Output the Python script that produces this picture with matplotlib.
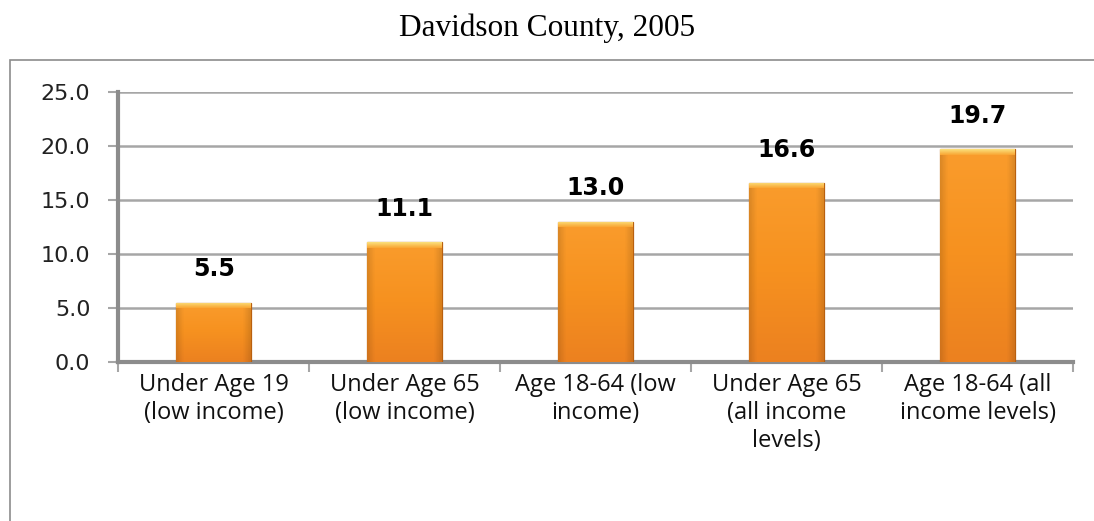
import numpy as np
import matplotlib.pyplot as plt
from matplotlib.patches import Rectangle
from matplotlib.colors import LinearSegmentedColormap

categories = [
    "Under Age 19\n(low income)",
    "Under Age 65\n(low income)",
    "Age 18-64 (low\nincome)",
    "Under Age 65\n(all income\nlevels)",
    "Age 18-64 (all\nincome levels)",
]
values = [5.5, 11.1, 13.0, 16.6, 19.7]
yticks = [0, 5, 10, 15, 20, 25]

fig = plt.figure(figsize=(10.94, 5.21), dpi=100)
ax = fig.add_axes([0.108, 0.305, 0.873, 0.518])

# outer chart frame, runs off the right and bottom
fig.patches.append(Rectangle((10 / 1094, -0.2), 1.2, 1.2 - 60 / 521,
                             transform=fig.transFigure, fill=False,
                             edgecolor="#8c8c8c", linewidth=1.2))

x = np.arange(len(values))
bars = ax.bar(x, values, width=0.39, color="#f7921f", edgecolor="#b9600f",
              linewidth=0.9, zorder=3)

# bar shading: flat orange, a bit lighter at the top, darker near the sides
vert = LinearSegmentedColormap.from_list("vert", ["#ec8120", "#f6911f", "#fa9c2c"])
rows = vert(np.linspace(0, 1, 64))[:, :3]
cols = np.linspace(-1, 1, 48)
side = 1 - 0.12 * np.clip((np.abs(cols) - 0.8) / 0.2, 0, 1)
shade = rows[:, None, :] * side[None, :, None]
tcm = LinearSegmentedColormap.from_list("top", ["#f9a634", "#fbe07c"])
for b in bars:
    bx, by = b.get_x(), b.get_y()
    bw, bh = b.get_width(), b.get_height()
    im = ax.imshow(shade, origin="lower", extent=[bx, bx + bw, by, by + bh],
                   aspect="auto", zorder=3.5)
    im.set_clip_path(b)
    top = np.linspace(0, 1, 16).reshape(-1, 1)
    im2 = ax.imshow(top, cmap=tcm, origin="lower",
                    extent=[bx, bx + bw, by + bh - 0.5, by + bh],
                    aspect="auto", zorder=3.6)
    im2.set_clip_path(b)
    ax.annotate(f"{b.get_height():.1f}", (bx + bw / 2, by + bh),
                xytext=(0, 24), textcoords="offset points", ha="center",
                va="center", fontsize=17, fontweight="bold",
                family="DejaVu Sans", zorder=5)

ax.set_xlim(-0.5, len(values) - 0.5)
ax.set_ylim(0, 25)
ax.set_yticks(yticks)
ax.set_yticklabels([f"{t:.1f}" for t in yticks], fontsize=16,
                   family="DejaVu Sans", color="#222222")
ax.yaxis.grid(True, color="#a6a6a6", linewidth=1.8, zorder=0)
ax.set_axisbelow(True)

ax.set_xticks(np.arange(len(values) + 1) - 0.5, minor=False)
ax.set_xticklabels([])
ax.set_xticks(x, minor=True)
ax.set_xticklabels(categories, minor=True, fontsize=17, family="Open Sans",
                   linespacing=1.22, color="#111111")
ax.tick_params(axis="x", which="minor", length=0, pad=8)
ax.tick_params(axis="x", which="major", length=7, width=1.5, color="#a6a6a6")
ax.tick_params(axis="y", length=7, width=1.5, color="#a6a6a6", pad=13)

for side_name in ["top", "right"]:
    ax.spines[side_name].set_visible(False)
for side_name in ["left", "bottom"]:
    ax.spines[side_name].set_color("#8c8c8c")
    ax.spines[side_name].set_linewidth(3)

fig.text(0.5, 0.945, "Davidson County, 2005", ha="center", va="center",
         fontsize=22.5, family="Liberation Serif")

fig.savefig("out.png", dpi=100, facecolor="white")
